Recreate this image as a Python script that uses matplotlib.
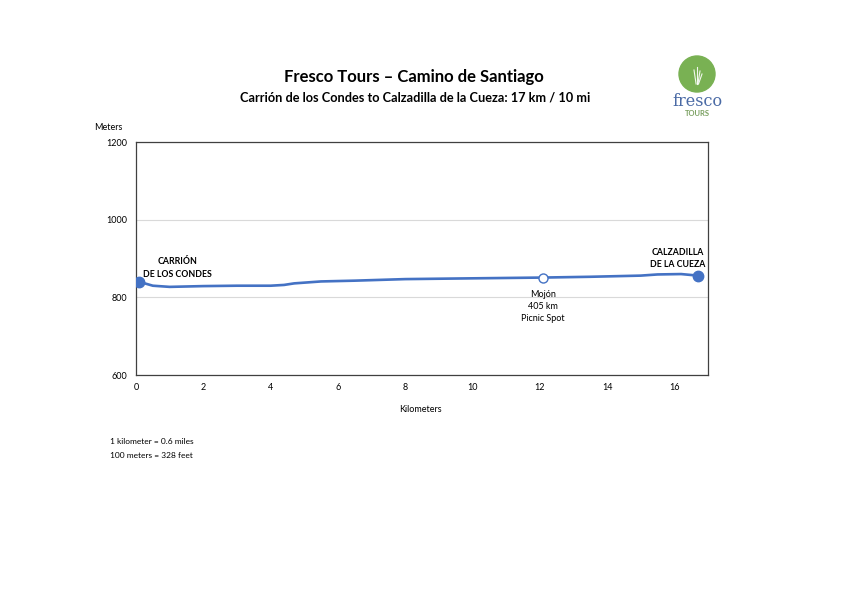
import matplotlib
matplotlib.use("Agg")
import matplotlib.pyplot as plt
from matplotlib.patches import Ellipse

plt.rcParams['font.family'] = ['Lato', 'DejaVu Sans']

# Data
km = [0.1, 0.5, 1.0, 1.5, 2.0, 3.0, 4.0, 4.4, 4.7, 5.5, 6.5, 8.0, 10.0, 12.1, 13.5, 15.0, 15.5, 16.2, 16.7]
elev = [840, 830, 827, 828, 829, 830, 830, 832, 836, 841, 843, 847, 849, 851, 853, 856, 859, 860, 856]
x_ticks = [0, 2, 4, 6, 8, 10, 12, 14, 16]
y_ticks = [600, 800, 1000, 1200]
start_km, start_elev = 0.1, 840
end_km, end_elev = 16.7, 856
poi_km, poi_elev = 12.1, 851

blue = '#4472C4'

fig = plt.figure(figsize=(8.41, 5.95), dpi=100)
ax = fig.add_axes([0.1617, 0.3697, 0.6802, 0.3916])

ax.plot(km, elev, color=blue, lw=1.9, solid_capstyle='round', zorder=3)
ax.plot([start_km], [start_elev], 'o', color=blue, ms=7.5, zorder=4)
ax.plot([end_km], [end_elev], 'o', color=blue, ms=7.5, zorder=4)
ax.plot([poi_km], [poi_elev], 'o', mfc='white', mec=blue, mew=1, ms=6.5, zorder=5)

ax.set_xlim(0, 17)
ax.set_ylim(600, 1200)
ax.set_xticks(x_ticks)
ax.set_yticks(y_ticks)
ax.tick_params(length=0, labelsize=6.5, pad=6)
ax.grid(axis='y', color='#d9d9d9', lw=0.8)
ax.set_axisbelow(True)
for s in ax.spines.values():
    s.set_color('#404040')
    s.set_linewidth(0.9)

ax.text(1.23, 848, 'CARRIÓN\nDE LOS CONDES', fontsize=6.3, fontweight='bold',
        ha='center', va='bottom', linespacing=1.5)
ax.text(16.1, 873, 'CALZADILLA\nDE LA CUEZA', fontsize=6.3, fontweight='bold',
        ha='center', va='bottom', linespacing=1.5)
ax.text(poi_km, 820, 'Mojón\n405 km\nPicnic Spot', fontsize=6.5,
        ha='center', va='top', linespacing=1.45)

fig.text(108 / 841, 1 - 127 / 595, 'Meters', fontsize=6.5, ha='center', va='center')
fig.text(420 / 841, 1 - 410 / 595, 'Kilometers', fontsize=6.5, ha='center', va='center')
fig.text(110 / 841, 1 - 442 / 595, '1 kilometer = 0.6 miles', fontsize=6, ha='left', va='center')
fig.text(110 / 841, 1 - 455 / 595, '100 meters = 328 feet', fontsize=6, ha='left', va='center')

fig.text(414 / 841, 1 - 77 / 595, 'Fresco Tours – Camino de Santiago', fontsize=12,
         fontweight='bold', ha='center', va='center')
fig.text(415 / 841, 1 - 97 / 595, 'Carrión de los Condes to Calzadilla de la Cueza: 17 km / 10 mi',
         fontsize=9.2, fontweight='bold', ha='center', va='center')

# Logo
lax = fig.add_axes([0, 0, 1, 1], zorder=-1)
lax.set_xlim(0, 841)
lax.set_ylim(595, 0)
lax.axis('off')
lax.add_patch(Ellipse((697, 74), 36, 36, color='#79b153'))
for dx, dh in [(-3, 14), (0, 17), (3, 13), (5, 10)]:
    lax.plot([697 + dx * 0.3, 697 + dx], [84, 84 - dh], color='white', lw=0.8, alpha=0.9)
lax.text(697, 101, 'fresco', fontsize=11.5, family='DejaVu Serif', color='#4a6aa5',
         ha='center', va='center')
lax.text(697, 114, 'TOURS', fontsize=5.5, fontweight='bold', color='#7aa060',
         ha='center', va='center')

fig.savefig('out.png', dpi=100)
